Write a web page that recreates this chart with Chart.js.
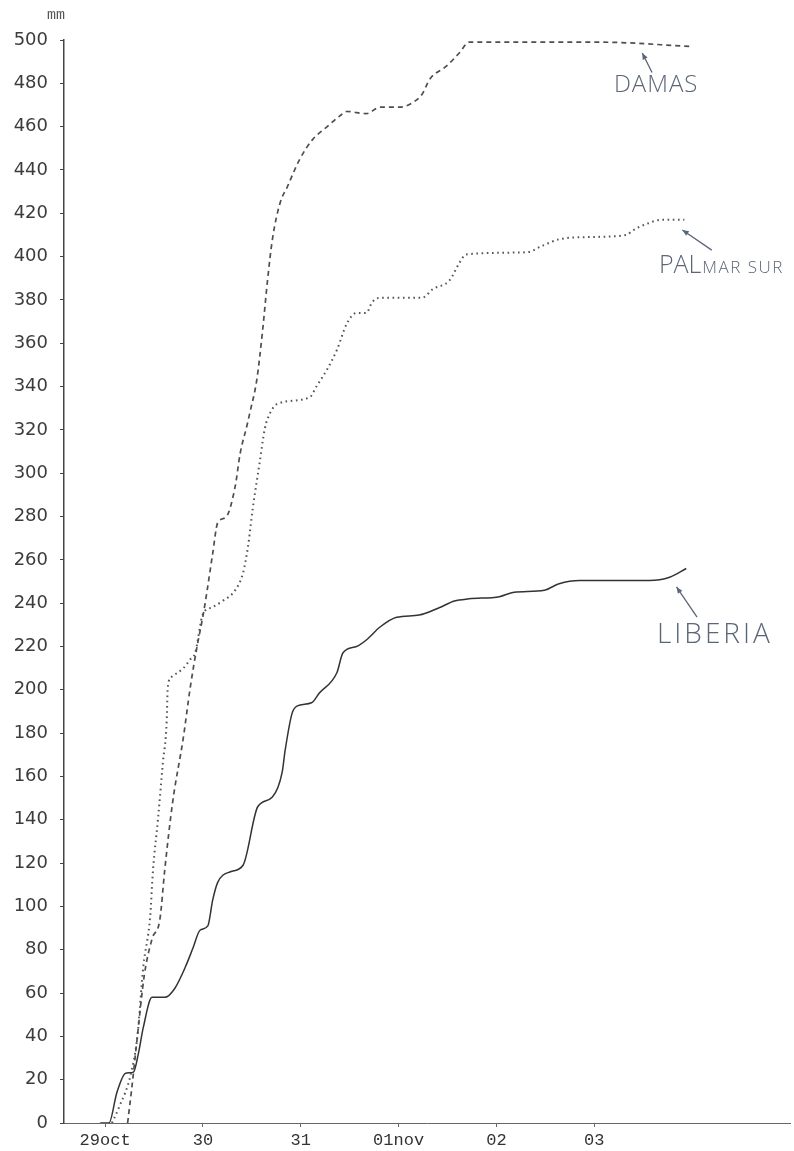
<!DOCTYPE html>
<html>
<head>
<meta charset="utf-8">
<script src="https://cdn.jsdelivr.net/npm/chart.js@4/dist/chart.umd.min.js"></script>
<style>
  html, body { margin: 0; padding: 0; background: #ffffff; }
  #wrap { width: 794px; height: 1151px; position: relative; }
</style>
</head>
<body>
<div id="wrap"><canvas id="c"></canvas></div>
<script>
// Day axis: 0 = 29 Oct, 1 = 30 Oct, ...
const dayLabels = ['29oct', '30', '31', '01nov', '02', '03'];

// Cumulative rainfall (mm), Damas
const damasDays = [0.23, 0.27, 0.33, 0.40, 0.48, 0.56, 0.61, 0.69, 0.80, 0.87, 0.94, 1.00, 1.04, 1.10, 1.15, 1.24, 1.33, 1.38, 1.45, 1.48, 1.55, 1.61, 1.66, 1.71, 1.79, 1.86, 1.99, 2.12, 2.27, 2.40, 2.47, 2.67, 2.81, 3.01, 3.14, 3.24, 3.32, 3.49, 3.62, 3.72, 4.03, 5.05, 6.00];
const damasMm   = [0, 15, 40, 68, 85, 94, 117, 148, 178, 201, 220, 234, 245, 263, 277, 280, 294, 309, 322, 328, 343, 366, 389, 408, 425, 432, 445, 454, 460, 465, 467, 466, 469, 469, 471, 475, 482, 488, 494, 499, 499, 499, 497];

// Cumulative rainfall (mm), Palmar Sur
const palmarDays = [0.07, 0.15, 0.26, 0.33, 0.39, 0.46, 0.49, 0.54, 0.59, 0.63, 0.64, 0.68, 0.80, 0.87, 0.92, 1.00, 1.09, 1.20, 1.33, 1.41, 1.46, 1.51, 1.58, 1.63, 1.66, 1.76, 2.09, 2.16, 2.27, 2.37, 2.47, 2.57, 2.67, 2.73, 2.81, 3.24, 3.35, 3.52, 3.62, 3.69, 4.31, 4.47, 4.64, 4.92, 5.33, 5.39, 5.53, 5.69, 5.92];
const palmarMm   = [0, 8, 22, 40, 72, 95, 117, 140, 166, 186, 201, 206, 210, 214, 217, 235, 238, 241, 246, 254, 266, 284, 305, 320, 325, 332, 335, 340, 348, 357, 369, 374, 374, 379, 381, 381, 385, 389, 397, 401, 402, 405, 408, 409, 410, 412, 415, 417, 417];

// Cumulative rainfall (mm), Liberia
const liberiaDays = [-0.05, 0.04, 0.12, 0.21, 0.29, 0.34, 0.39, 0.48, 0.61, 0.71, 0.82, 0.90, 0.97, 1.05, 1.10, 1.15, 1.28, 1.41, 1.56, 1.71, 1.81, 1.84, 1.91, 1.96, 2.11, 2.19, 2.37, 2.43, 2.57, 2.67, 2.81, 2.98, 3.21, 3.42, 3.57, 3.72, 4.03, 4.18, 4.49, 4.64, 4.85, 5.56, 5.77, 5.94];
const liberiaMm   = [0, 0, 14, 23, 23.5, 32, 44, 58, 58, 62, 72, 81, 89, 91, 103, 111, 116, 119, 146, 150.5, 162, 172, 189, 192.5, 194, 198.5, 208, 217, 220, 223, 229, 233.5, 234.5, 238, 241, 242, 243, 245, 246, 249, 250.5, 250.5, 252, 256];

const toPoints = (days, mm) => days.map((d, i) => ({ x: d, y: mm[i] }));

// Hand-lettered station names with pointer arrows (in data units)
const stationNotes = [
  { parts: [{ text: 'DAMAS', font: '300 24px "Open Sans"', spacing: 1, gap: 0 }],
    at: [5.20, 476], from: [5.59, 485], to: [5.49, 494] },
  { parts: [{ text: 'PAL', font: '300 25px "Open Sans"', spacing: 0, gap: 1 },
            { text: 'MAR SUR', font: '300 17px "Open Sans"', spacing: 1.5, gap: 0 }],
    at: [5.66, 392.4], from: [6.20, 403], to: [5.90, 412.3] },
  { parts: [{ text: 'LIBERIA', font: '300 28px "Open Sans"', spacing: 3, gap: 0 }],
    at: [5.64, 221.6], from: [6.05, 233.6], to: [5.84, 247.5] }
];

const notesPlugin = {
  id: 'stationNotes',
  afterDatasetsDraw(chart) {
    const { ctx, scales: { x, y } } = chart;
    ctx.save();
    // unit label above the value axis
    ctx.font = '15px "Liberation Mono"';
    ctx.fillStyle = '#555';
    ctx.textAlign = 'center';
    ctx.textBaseline = 'middle';
    ctx.fillText('mm', x.left - 8, chart.chartArea.top - 25);

    ctx.textAlign = 'left';
    ctx.textBaseline = 'alphabetic';
    const ink = '#5b6677';
    stationNotes.forEach(n => {
      let px = x.getPixelForValue(n.at[0]);
      const py = y.getPixelForValue(n.at[1]);
      ctx.fillStyle = ink;
      n.parts.forEach(p => {
        ctx.font = p.font;
        ctx.letterSpacing = p.spacing + 'px';
        ctx.fillText(p.text, px, py);
        px += ctx.measureText(p.text).width + p.gap;
      });
      ctx.letterSpacing = '0px';
      const x1 = x.getPixelForValue(n.from[0]), y1 = y.getPixelForValue(n.from[1]);
      const x2 = x.getPixelForValue(n.to[0]),   y2 = y.getPixelForValue(n.to[1]);
      ctx.strokeStyle = ink;
      ctx.lineWidth = 1.3;
      ctx.beginPath();
      ctx.moveTo(x1, y1);
      ctx.lineTo(x2, y2);
      ctx.stroke();
      const a = Math.atan2(y2 - y1, x2 - x1);
      ctx.beginPath();
      ctx.moveTo(x2, y2);
      ctx.lineTo(x2 - 7 * Math.cos(a - 0.4), y2 - 7 * Math.sin(a - 0.4));
      ctx.lineTo(x2 - 7 * Math.cos(a + 0.4), y2 - 7 * Math.sin(a + 0.4));
      ctx.closePath();
      ctx.fill();
    });
    ctx.restore();
  }
};

new Chart(document.getElementById('c'), {
  type: 'line',
  data: {
    datasets: [
      { label: 'DAMAS', data: toPoints(damasDays, damasMm),
        borderColor: '#4e4e4e', borderWidth: 1.7, borderDash: [5, 4] },
      { label: 'PALMAR SUR', data: toPoints(palmarDays, palmarMm),
        borderColor: '#555555', borderWidth: 2, borderDash: [1.6, 3.6] },
      { label: 'LIBERIA', data: toPoints(liberiaDays, liberiaMm),
        borderColor: '#333333', borderWidth: 1.5 }
    ]
  },
  options: {
    responsive: true,
    maintainAspectRatio: false,
    animation: false,
    layout: { padding: { top: 40, right: 4, left: 0, bottom: 0 } },
    elements: {
      point: { radius: 0 },
      line: { cubicInterpolationMode: 'monotone', fill: false }
    },
    plugins: { legend: { display: false }, tooltip: { enabled: false } },
    scales: {
      x: {
        type: 'linear',
        min: -0.42,
        max: 7.0,
        afterBuildTicks: s => { s.ticks = dayLabels.map((_, i) => ({ value: i })); },
        afterFit: s => { s.height = 28; },
        ticks: {
          autoSkip: false,
          maxRotation: 0,
          padding: 3,
          color: '#333',
          font: { family: '"Liberation Mono"', size: 17 },
          callback: (v, i) => dayLabels[i]
        },
        grid: { drawOnChartArea: false, tickLength: 4, color: '#666' },
        border: { color: '#666', width: 1 }
      },
      y: {
        min: 0,
        max: 500,
        afterFit: s => { s.width = 64; },
        ticks: {
          stepSize: 20,
          padding: 12,
          color: '#3c3c3c',
          font: { family: '"DejaVu Sans"', size: 18 }
        },
        grid: { drawOnChartArea: false, tickLength: 4, color: '#444' },
        border: { color: '#444', width: 1.5 }
      }
    }
  },
  plugins: [notesPlugin]
});
</script>
</body>
</html>
